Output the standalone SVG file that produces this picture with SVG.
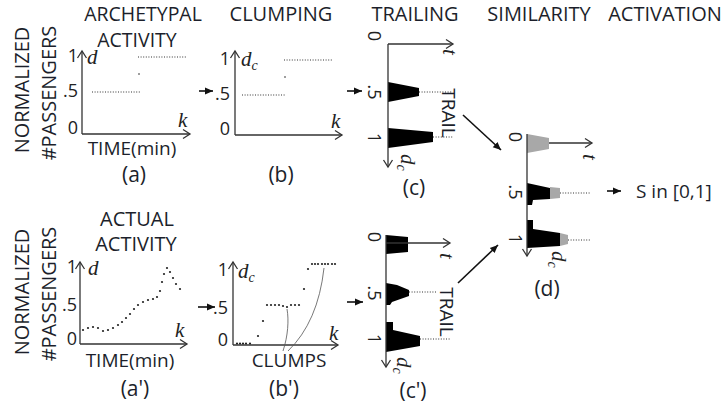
<svg xmlns="http://www.w3.org/2000/svg" width="722" height="406" viewBox="0 0 722 406">
<defs>
<style>
.t{font-family:"Open Sans","Noto Sans",sans-serif;font-size:19px;fill:#1c1f2b}
.h{font-size:20px}
.n{font-family:"Open Sans","Noto Sans",sans-serif;font-size:18px;fill:#222}
.m{font-family:"Liberation Serif","DejaVu Serif",serif;font-style:italic;font-size:21px;fill:#222}
.s{font-size:14px}
.ax{fill:none;stroke:#333;stroke-width:1.3}
.dt{fill:none;stroke:#777;stroke-width:1.3;stroke-dasharray:1 1.6}
.cn{fill:none;stroke:#111;stroke-width:1.6}
.cv{fill:none;stroke:#555;stroke-width:0.8}
.blk{fill:#000}
.gr{fill:#a8a8a8}
.dot{fill:#222}
</style>
<marker id="ch" markerWidth="12" markerHeight="12" refX="9" refY="6" orient="auto" markerUnits="userSpaceOnUse"><path d="M2,1.5 L9,6 L2,10.5" fill="none" stroke="#333" stroke-width="1.3"/></marker>
<marker id="ar" markerWidth="10" markerHeight="10" refX="8" refY="5" orient="auto" markerUnits="userSpaceOnUse"><path d="M0,1.5 L8,5 L0,8.5 z" fill="#111"/></marker>
</defs>
<rect width="722" height="406" fill="#fff"/>

<g id="titles">
<text class="t" x="143" y="21" text-anchor="middle" style="font-size:19.5px">ARCHETYPAL</text>
<text class="t" x="137" y="47" text-anchor="middle" style="font-size:19.5px">ACTIVITY</text>
<text class="t h" x="281" y="21" text-anchor="middle">CLUMPING</text>
<text class="t h" x="415" y="21" text-anchor="middle">TRAILING</text>
<text class="t h" x="539" y="21" text-anchor="middle">SIMILARITY</text>
<text class="t h" x="665" y="21" text-anchor="middle">ACTIVATION</text>
<text class="t h" x="137" y="226" text-anchor="middle">ACTUAL</text>
<text class="t h" x="136" y="251" text-anchor="middle">ACTIVITY</text>
<text class="t h" transform="translate(29,90) rotate(-90)" text-anchor="middle">NORMALIZED</text>
<text class="t h" transform="translate(56,93) rotate(-90)" text-anchor="middle">#PASSENGERS</text>
<text class="t h" transform="translate(29,292) rotate(-90)" text-anchor="middle">NORMALIZED</text>
<text class="t h" transform="translate(56,294) rotate(-90)" text-anchor="middle">#PASSENGERS</text>
</g>

<g id="chart-a">
<path class="ax" d="M82,134 V51" marker-end="url(#ch)"/>
<path class="ax" d="M82,134 H190" marker-end="url(#ch)"/>
<text class="n" x="78" y="62" text-anchor="end">1</text>
<text class="n" x="78" y="97" text-anchor="end">.5</text>
<text class="n" x="78" y="134" text-anchor="end">0</text>
<text class="m" x="87" y="64">d</text>
<text class="m" x="178" y="127">k</text>
<path class="dt" d="M92,92 H140"/>
<path class="dt" d="M138,57 H186"/>
<circle class="dot" cx="139" cy="74" r="0.8"/>
<text class="t" x="132" y="155" text-anchor="middle">TIME(min)</text>
<text class="t" x="134" y="182" text-anchor="middle" style="font-size:21px">(a)</text>
</g>

<g id="chart-b">
<path class="ax" d="M235,135 V51" marker-end="url(#ch)"/>
<path class="ax" d="M235,135 H342" marker-end="url(#ch)"/>
<text class="n" x="230" y="65" text-anchor="end">1</text>
<text class="n" x="230" y="100" text-anchor="end">.5</text>
<text class="n" x="230" y="135" text-anchor="end">0</text>
<text class="m" x="241" y="66">d<tspan class="s" dy="4">c</tspan></text>
<text class="m" x="331" y="128">k</text>
<path class="dt" d="M242,95 H286"/>
<path class="dt" d="M284,60 H333"/>
<circle class="dot" cx="285" cy="77" r="0.8"/>
<text class="t" x="281" y="182" text-anchor="middle" style="font-size:21px">(b)</text>
</g>

<g id="chart-c">
<polygon class="blk" points="388,82 419,88 419,96 388,102"/>
<polygon class="blk" points="388,128 433,132 433,142 388,148"/>
<path class="ax" d="M388,44 V167" marker-end="url(#ch)"/>
<path class="ax" d="M388,44 H453" marker-end="url(#ch)"/>
<path class="dt" d="M419,92 H452"/>
<path class="dt" d="M433,137 H453"/>
<text class="n" transform="translate(368,36) rotate(90)" text-anchor="middle">0</text>
<text class="n" transform="translate(368,92) rotate(90)" text-anchor="middle">.5</text>
<text class="n" transform="translate(368,138) rotate(90)" text-anchor="middle">1</text>
<text class="m" transform="translate(443,52) rotate(90)" text-anchor="middle">t</text>
<text class="m" transform="translate(401,154) rotate(90)">d<tspan class="s" dy="4">c</tspan></text>
<text class="t" transform="translate(442,113) rotate(90)" text-anchor="middle">TRAIL</text>
<text class="t" x="414" y="195" text-anchor="middle" style="font-size:21px">(c)</text>
</g>

<g id="chart-a-prime">
<path class="ax" d="M80,344 V262" marker-end="url(#ch)"/>
<path class="ax" d="M80,344 H187" marker-end="url(#ch)"/>
<text class="n" x="77" y="273" text-anchor="end">1</text>
<text class="n" x="77" y="311" text-anchor="end">.5</text>
<text class="n" x="77" y="345" text-anchor="end">0</text>
<text class="m" x="88" y="275">d</text>
<text class="m" x="175" y="337">k</text>
<g class="dot">
<circle cx="83" cy="330" r="1.1"/><circle cx="88" cy="328" r="1.1"/><circle cx="93" cy="327" r="1.1"/><circle cx="98" cy="328" r="1.1"/>
<circle cx="103" cy="331" r="1.1"/><circle cx="108" cy="330" r="1.1"/><circle cx="113" cy="328" r="1.1"/><circle cx="118" cy="325" r="1.1"/>
<circle cx="122" cy="322" r="1.1"/><circle cx="126" cy="318" r="1.1"/><circle cx="130" cy="314" r="1.1"/><circle cx="134" cy="309" r="1.1"/>
<circle cx="138" cy="305" r="1.1"/><circle cx="143" cy="302" r="1.1"/><circle cx="148" cy="300" r="1.1"/><circle cx="153" cy="299" r="1.1"/>
<circle cx="157" cy="297" r="1.1"/><circle cx="160" cy="291" r="1.1"/><circle cx="162" cy="282" r="1.1"/><circle cx="164" cy="274" r="1.1"/>
<circle cx="167" cy="268" r="1.1"/><circle cx="170" cy="272" r="1.1"/><circle cx="173" cy="278" r="1.1"/><circle cx="176" cy="284" r="1.1"/><circle cx="180" cy="289" r="1.1"/>
</g>
<text class="t" x="130" y="367" text-anchor="middle">TIME(min)</text>
<text class="t" x="135" y="396" text-anchor="middle" style="font-size:21px">(a')</text>
</g>

<g id="chart-b-prime">
<path class="ax" d="M233,345 V262" marker-end="url(#ch)"/>
<path class="ax" d="M233,345 H338" marker-end="url(#ch)"/>
<text class="n" x="228" y="276" text-anchor="end">1</text>
<text class="n" x="228" y="314" text-anchor="end">.5</text>
<text class="n" x="228" y="346" text-anchor="end">0</text>
<text class="m" x="238" y="278">d<tspan class="s" dy="4">c</tspan></text>
<text class="m" x="329" y="340">k</text>
<g class="dot">
<circle cx="237" cy="343.5" r="1.1"/><circle cx="240" cy="343.5" r="1.1"/><circle cx="243" cy="343.5" r="1.1"/><circle cx="246" cy="343.5" r="1.1"/><circle cx="250" cy="343.5" r="1.1"/>
<circle cx="258" cy="336" r="1.1"/><circle cx="263" cy="321" r="1.1"/>
<circle cx="267" cy="305" r="1.1"/><circle cx="271" cy="305" r="1.1"/><circle cx="275" cy="305" r="1.1"/><circle cx="279" cy="305" r="1.1"/><circle cx="283" cy="306" r="1.1"/><circle cx="287" cy="307" r="1.1"/><circle cx="291" cy="305" r="1.1"/><circle cx="295" cy="305" r="1.1"/><circle cx="299" cy="305" r="1.1"/>
<circle cx="304" cy="289" r="1.1"/><circle cx="308" cy="269" r="1.1"/>
<circle cx="312" cy="264" r="1.1"/><circle cx="315" cy="264" r="1.1"/><circle cx="318" cy="264" r="1.1"/><circle cx="322" cy="264" r="1.1"/><circle cx="325" cy="264" r="1.1"/><circle cx="328" cy="264" r="1.1"/><circle cx="332" cy="264" r="1.1"/><circle cx="335" cy="264" r="1.1"/>
</g>
<path class="cv" d="M283,351 C288,336 289,320 287,309"/>
<path class="cv" d="M288,351 Q318,322 324,268"/>
<text class="t" x="289" y="367" text-anchor="middle">CLUMPS</text>
<text class="t" x="284" y="396" text-anchor="middle" style="font-size:21px">(b')</text>
</g>

<g id="chart-c-prime">
<polygon class="blk" points="386,235 408,237 408,252 386,254"/>
<polygon class="blk" points="386,283 397,285 409,290 409,296 392,302 390,305 386,305"/>
<polygon class="blk" points="386,322 393,322 393,330 420,336 420,346 386,352"/>
<path class="ax" d="M386,235 V367" marker-end="url(#ch)"/>
<path class="ax" d="M386,243 H450" marker-end="url(#ch)"/>
<path class="dt" d="M409,292 H436"/>
<path class="dt" d="M420,339 H450"/>
<text class="n" transform="translate(368,237) rotate(90)" text-anchor="middle">0</text>
<text class="n" transform="translate(368,293) rotate(90)" text-anchor="middle">.5</text>
<text class="n" transform="translate(368,339) rotate(90)" text-anchor="middle">1</text>
<text class="m" transform="translate(440,256) rotate(90)" text-anchor="middle">t</text>
<text class="m" transform="translate(397,357) rotate(90)">d<tspan class="s" dy="4">c</tspan></text>
<text class="t" transform="translate(440,312) rotate(90)" text-anchor="middle">TRAIL</text>
<text class="t" x="413" y="398" text-anchor="middle" style="font-size:21px">(c')</text>
</g>

<g id="chart-d">
<polygon class="gr" points="527,134 549,138 549,149 527,153"/>
<polygon class="blk" points="527,183 550,188 550,199 533,200 532,205 527,205"/>
<polygon class="gr" points="550,187 560,188 560,198 550,199"/>
<polygon class="blk" points="527,220 533,220 533,229 560,233 560,246 527,248"/>
<polygon class="gr" points="560,233 568,235 568,244 560,246"/>
<path class="ax" d="M527,134 V256" marker-end="url(#ch)"/>
<path class="ax" d="M549,143 H592" marker-end="url(#ch)"/>
<path class="dt" d="M560,193 H590"/>
<path class="dt" d="M568,240 H590"/>
<text class="n" transform="translate(509,137) rotate(90)" text-anchor="middle">0</text>
<text class="n" transform="translate(509,192) rotate(90)" text-anchor="middle">.5</text>
<text class="n" transform="translate(509,239) rotate(90)" text-anchor="middle">1</text>
<text class="m" transform="translate(583,157) rotate(90)" text-anchor="middle">t</text>
<text class="m" transform="translate(552,251) rotate(90)">d<tspan class="s" dy="4">c</tspan></text>
<text class="t" x="547" y="296" text-anchor="middle" style="font-size:21px">(d)</text>
</g>

<g id="output">
<text class="t" x="636" y="198">S in [0,1]</text>
</g>

<g id="connectors">
<path class="cn" d="M199,91 H213" marker-end="url(#ar)"/>
<path class="cn" d="M347,91 H362" marker-end="url(#ar)"/>
<path class="cn" d="M198,307 H215" marker-end="url(#ar)"/>
<path class="cn" d="M347,302 H363" marker-end="url(#ar)"/>
<path class="cn" d="M463,115 L501,150" marker-end="url(#ar)"/>
<path class="cn" d="M458,283 L498,245" marker-end="url(#ar)"/>
<path class="cn" d="M607,191 H621" marker-end="url(#ar)"/>
</g>
</svg>
